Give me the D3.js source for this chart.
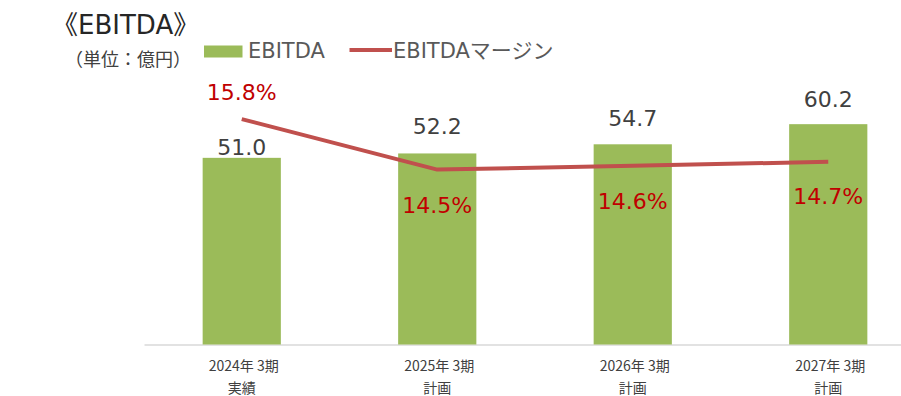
<!DOCTYPE html>
<html>
<head>
<meta charset="utf-8">
<script src="https://cdn.jsdelivr.net/npm/d3@7"></script>
<style>
  html, body { margin: 0; padding: 0; background: #fff; }
  svg { display: block; }
  .num { font-family: "DejaVu Sans", "Noto Sans CJK JP", sans-serif; }
  .jp  { font-family: "Noto Sans CJK JP", "DejaVu Sans", sans-serif; }
</style>
</head>
<body>
<div class="chart"></div>
<script>
// chart data
const categories = ['2024年 3期', '2025年 3期', '2026年 3期', '2027年 3期'];
const categorySub = ['実績', '計画', '計画', '計画'];
const ebitda = [51.0, 52.2, 54.7, 60.2];      // 億円
const margin = [15.8, 14.5, 14.6, 14.7];      // %

(function() {
  'use strict';

  let width = 901,
      height = 396,
      barColor = '#9bbb59',
      lineColor = '#c0504d',

      svg = d3.select('.chart')
        .append('svg')
        .attr('width', width)
        .attr('height', height),

      x = d3.scaleBand()
        .domain(categories)
        .range([144, 926])
        .paddingInner(0.6)
        .paddingOuter(0.3),

      y = d3.scaleLinear()
        .domain([0, 70])
        .range([344.5, 88.3]),

      y2 = d3.scaleLinear()
        .domain([10, 16.6])
        .range([344.5, 88]),

      cx = (d, i) => x(categories[i]) + x.bandwidth() / 2;

  // title + unit
  svg.append('text')
    .attr('class', 'num')
    .attr('x', 52)
    .attr('y', 33.5)
    .attr('font-size', 26)
    .attr('fill', '#262626')
    .text('《EBITDA》');

  svg.append('text')
    .attr('class', 'jp')
    .attr('x', 65)
    .attr('y', 66)
    .attr('font-size', 18)
    .attr('fill', '#404040')
    .text('（単位：億円）');

  // legend
  let legend = svg.append('g');
  legend.append('rect')
    .attr('x', 204).attr('y', 45.5)
    .attr('width', 38.5).attr('height', 12)
    .attr('fill', barColor);
  legend.append('text')
    .attr('class', 'num')
    .attr('x', 248).attr('y', 57.5)
    .attr('font-size', 21)
    .attr('fill', '#595959')
    .text('EBITDA');
  legend.append('line')
    .attr('x1', 349.5).attr('x2', 392)
    .attr('y1', 50).attr('y2', 50)
    .attr('stroke', lineColor)
    .attr('stroke-width', 4);
  legend.append('text')
    .attr('class', 'num')
    .attr('x', 393).attr('y', 57.5)
    .attr('font-size', 21)
    .attr('fill', '#595959')
    .text('EBITDAマージン');

  // x axis
  let axis = svg.append('g')
    .attr('transform', `translate(0,${y(0)})`)
    .call(d3.axisBottom(x).tickSize(0).tickFormat(''));

  axis.select('.domain')
    .attr('stroke', '#d9d9d9')
    .attr('stroke-width', 1.5);

  axis.selectAll('.tick text').remove();
  axis.selectAll('.tick')
    .append('text')
      .attr('class', 'jp')
      .attr('font-size', 14)
      .attr('fill', '#404040')
      .attr('text-anchor', 'middle')
      .each(function(d, i) {
        let t = d3.select(this);
        t.append('tspan').attr('x', 2).attr('y', 26.5).text(d);
        t.append('tspan').attr('x', 0).attr('y', 48.5).text(categorySub[i]);
      });

  // bars
  svg.selectAll('rect.bar')
    .data(ebitda)
    .enter()
    .append('rect')
      .attr('class', 'bar')
      .attr('x', (d, i) => x(categories[i]))
      .attr('y', d => y(d))
      .attr('width', x.bandwidth())
      .attr('height', d => y(0) - y(d))
      .attr('fill', barColor);

  // margin line
  svg.append('path')
    .datum(margin)
    .attr('fill', 'none')
    .attr('stroke', lineColor)
    .attr('stroke-width', 4)
    .attr('stroke-linejoin', 'round')
    .attr('d', d3.line()
      .x(cx)
      .y(d => y2(d)));

  // bar value labels (first one sits lower, Excel moved it under the line label)
  let barLabelDy = [-2.5, -19, -18, -17];
  svg.selectAll('text.barval')
    .data(ebitda)
    .enter()
    .append('text')
      .attr('class', 'num barval')
      .attr('x', cx)
      .attr('y', (d, i) => y(d) + barLabelDy[i])
      .attr('text-anchor', 'middle')
      .attr('font-size', 22)
      .attr('fill', '#404040')
      .text(d => d.toFixed(1));

  // margin labels
  let marginLabelDy = [-19.5, 43, 43, 42.5];
  svg.selectAll('text.marval')
    .data(margin)
    .enter()
    .append('text')
      .attr('class', 'num marval')
      .attr('x', cx)
      .attr('y', (d, i) => y2(d) + marginLabelDy[i])
      .attr('text-anchor', 'middle')
      .attr('font-size', 22)
      .attr('fill', '#c00000')
      .text(d => d.toFixed(1) + '%');

})();
</script>
</body>
</html>
